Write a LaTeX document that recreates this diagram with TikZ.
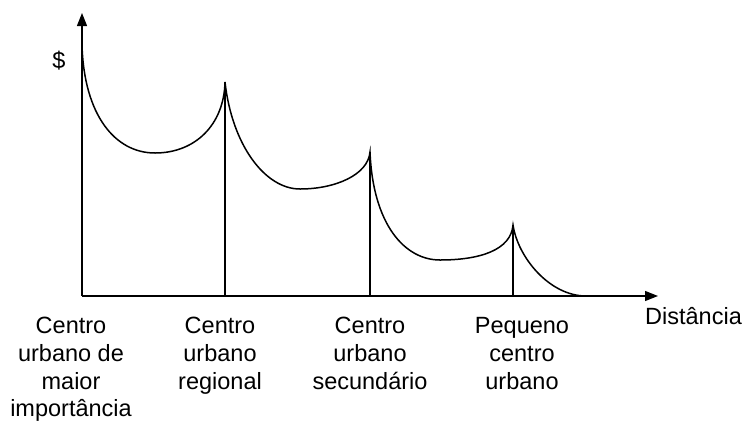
\documentclass[tikz,border=0pt]{standalone}
\usepackage{fontspec}
\setmainfont{Liberation Sans}
\usetikzlibrary{arrows.meta}
\begin{document}
\begin{tikzpicture}[x=1pt,y=-1pt,
  axis/.style={line width=1.3pt,-{Triangle[length=13pt,width=10pt]}},
  curve/.style={line width=1.5pt},
  drop/.style={line width=1.5pt},
  lbl/.style={inner sep=0pt,align=center,anchor=base,font=\fontsize{23.5}{27.8}\selectfont}]
\useasboundingbox (0,0) rectangle (743,421);
\coordinate (O) at (82,296);
\coordinate (ytop) at (82,13);
\coordinate (xend) at (658,296);
\coordinate (s) at (82,45);
\coordinate (p1) at (225,82);
\coordinate (p2) at (370,152);
\coordinate (p3) at (513,225);
\coordinate (e) at (586,296);
\coordinate (b1) at (225,296);
\coordinate (b2) at (370,296);
\coordinate (b3) at (513,296);
\draw[axis] (O) -- (ytop);
\draw[axis] (O) -- (xend);
\draw[drop] (p1) -- (b1);
\draw[drop] (p2) -- (b2);
\draw[drop] (p3) -- (b3);
\draw[curve] (s) .. controls (84,115) and (115,153) .. (155,153)
  .. controls (195,153) and (224,125) .. (p1)
  .. controls (232,145) and (265,189) .. (300,189)
  .. controls (335,189) and (368,175) .. (p2)
  .. controls (373,225) and (405,260) .. (440,260)
  .. controls (480,260) and (511,250) .. (p3)
  .. controls (518,258) and (550,296) .. (e);
\node[lbl] (dollar) at (59,68) {\$};
\node[lbl,anchor=base west] (dist) at (645,324) {Distância};
\node[lbl] (c1) at (71,416.9) {Centro\\urbano de\\maior\\importância};
\node[lbl] (c2) at (220,389.1) {Centro\\urbano\\regional};
\node[lbl] (c3) at (370,389.1) {Centro\\urbano\\secundário};
\node[lbl] (c4) at (522,389.1) {Pequeno\\centro\\urbano};
\end{tikzpicture}
\end{document}
